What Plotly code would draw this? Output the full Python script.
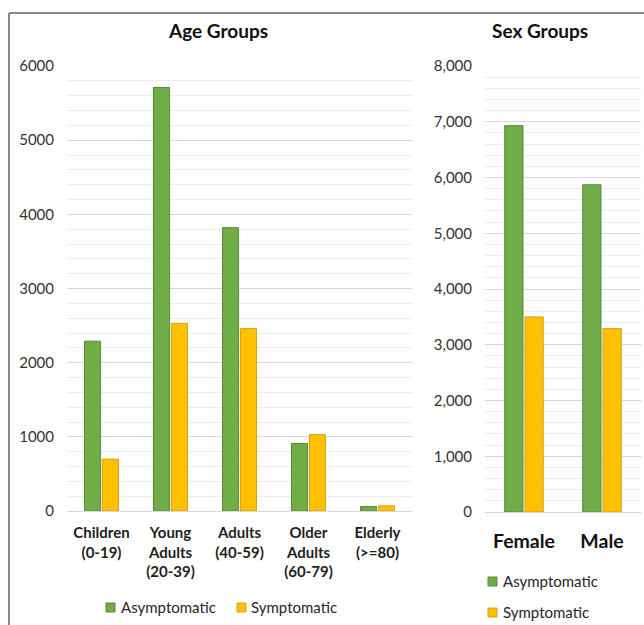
import plotly.graph_objects as go
from plotly.subplots import make_subplots

# ---- data ----
age_groups = ["Children<br>(0-19)", "Young<br>Adults<br>(20-39)", "Adults<br>(40-59)",
              "Older<br>Adults<br>(60-79)", "Elderly<br>(>=80)"]
age_asymptomatic = [2290, 5710, 3820, 910, 60]
age_symptomatic = [700, 2530, 2460, 1030, 70]

sex_groups = ["Female", "Male"]
sex_asymptomatic = [6930, 5870]
sex_symptomatic = [3500, 3290]

series_names = ["Asymptomatic", "Symptomatic"]

W, H = 644, 625
GREEN, GREEN_EDGE = "#70ad47", "#548a36"
YELLOW, YELLOW_EDGE = "#ffc000", "#d4a21a"
FONT = "Lato"


def px(x):
    return x / W


def py(y):
    return 1 - y / H


fig = make_subplots(rows=1, cols=2)

bar_style = [(GREEN, GREEN_EDGE), (YELLOW, YELLOW_EDGE)]
for name, vals, (fc, ec) in zip(series_names, [age_asymptomatic, age_symptomatic], bar_style):
    fig.add_trace(go.Bar(x=age_groups, y=vals, name=name, marker=dict(color=fc, line=dict(color=ec, width=1)),
                         showlegend=False), row=1, col=1)
for name, vals, (fc, ec) in zip(series_names, [sex_asymptomatic, sex_symptomatic], bar_style):
    fig.add_trace(go.Bar(x=sex_groups, y=vals, name=name, marker=dict(color=fc, line=dict(color=ec, width=1)),
                         showlegend=False), row=1, col=2)

grid_major = "#d9d9d9"
grid_minor = "#ececec"
tick_font = dict(family=FONT, size=15, color="#333333")

fig.update_layout(
    template="none",
    width=W, height=H,
    margin=dict(l=0, r=0, t=0, b=0, pad=0, autoexpand=False),
    paper_bgcolor="white", plot_bgcolor="white",
    barmode="group", bargap=0.48, bargroupgap=0.1,
    font=dict(family=FONT, color="#262626"),
    xaxis=dict(domain=[px(67), px(412)], showgrid=False, showline=True, linecolor=grid_major,
               ticks="", automargin=False,
               tickfont=dict(family=FONT, size=15, color="#1e1e1e", weight="bold"),
               ticklabelstandoff=8),
    yaxis=dict(domain=[py(511), py(66)], range=[0, 6000], dtick=1000, tickformat="d",
               showgrid=True, gridcolor=grid_major, gridwidth=1, zeroline=False, showline=False,
               minor=dict(dtick=200, showgrid=True, gridcolor=grid_minor, gridwidth=1),
               ticks="", automargin=False, tickfont=tick_font, ticklabelstandoff=12),
    xaxis2=dict(domain=[px(485), px(641)], showgrid=False, showline=True, linecolor=grid_major,
                ticks="", automargin=False,
                tickfont=dict(family=FONT, size=19.5, color="#111111", weight="bold"),
                ticklabelstandoff=12),
    yaxis2=dict(domain=[py(512), py(66)], range=[0, 8000], dtick=1000, tickformat=",d",
                showgrid=True, gridcolor=grid_major, gridwidth=1, zeroline=False, showline=False,
                minor=dict(dtick=200, showgrid=True, gridcolor=grid_minor, gridwidth=1),
                ticks="", automargin=False, tickfont=tick_font, ticklabelstandoff=12),
)

# titles
for text, cx in [("Age Groups", 218), ("Sex Groups", 540)]:
    fig.add_annotation(x=px(cx), y=py(30), xref="paper", yref="paper", text=f"<b>{text}</b>",
                       showarrow=False, xanchor="center", yanchor="middle",
                       font=dict(family=FONT, size=19, color="#111111"))

# legend entries: (square left, square top, text x, text center y)
legend_items = [
    (106, 603, 119, 607, 0), (237, 603, 249, 607, 1),
    (488, 577, 501, 581, 0), (488, 608, 501, 612, 1),
]
for sx, sy, tx, ty, i in legend_items:
    fc, ec = bar_style[i]
    fig.add_shape(type="rect", xref="paper", yref="paper",
                  x0=px(sx), x1=px(sx + 9), y0=py(sy + 9), y1=py(sy),
                  fillcolor=fc, line=dict(color=ec, width=1))
    fig.add_annotation(x=px(tx), y=py(ty), xref="paper", yref="paper", text=series_names[i],
                       showarrow=False, xanchor="left", yanchor="middle",
                       font=dict(family=FONT, size=15, color="#262626"))

# outer frame (left and top edges)
fig.add_shape(type="line", xref="paper", yref="paper", x0=px(9), x1=px(9), y0=0, y1=py(13),
              line=dict(color="#8a8a8a", width=2))
fig.add_shape(type="line", xref="paper", yref="paper", x0=px(9), x1=1, y0=py(13), y1=py(13),
              line=dict(color="#8a8a8a", width=2))

fig.write_html("out.html", config=dict(displayModeBar=False),
               post_script="document.body.style.margin='0';document.body.style.overflow='hidden';")
